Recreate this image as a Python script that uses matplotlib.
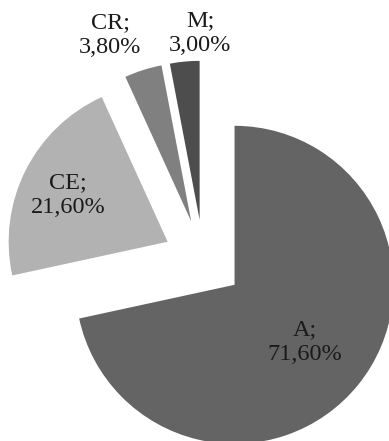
import matplotlib
matplotlib.use("Agg")
import matplotlib.pyplot as plt
import numpy as np

# dati
categorie = ["A", "CE", "CR", "M"]
percentuali = [71.6, 21.6, 3.8, 3.0]
etichette = ["A;\n71,60%", "CE;\n21,60%", "CR;\n3,80%", "M;\n3,00%"]

colori = ["#646464", "#b2b2b2", "#808080", "#4d4d4d"]
dist_etichette = [0.57, 0.70, 1.23, 1.18]
# piccolo spostamento (pixel) delle etichette esterne per non sovrapporle
shift_etichette = [(0, 0), (0, -3), (-22, 0), (18, 0)]

W, H = 389, 441
fig = plt.figure(figsize=(W / 100, H / 100), dpi=100)
ax = fig.add_axes([0, 0, 1, 1])

raggio = 159
centro = (203.4, H - 259.7)
# in matplotlib l'esplosione e' in unita' dati, non frazione del raggio
wedges, _ = ax.pie(
    percentuali,
    colors=colori,
    startangle=90,
    counterclock=False,
    explode=[40] * len(percentuali),
    radius=raggio,
    center=centro,
    wedgeprops=dict(linewidth=0),
)

# etichette posizionate lungo l'angolo medio di ogni fetta
for w, testo, d, (dx, dy) in zip(wedges, etichette, dist_etichette, shift_etichette):
    ang = np.deg2rad((w.theta1 + w.theta2) / 2)
    x = w.center[0] + d * w.r * np.cos(ang) + dx
    y = w.center[1] + d * w.r * np.sin(ang) + dy
    ax.text(x, y, testo, ha="center", va="center", fontsize=17.5,
            family="Liberation Serif", linespacing=1.25, color="#1a1a1a")

ax.set_xlim(0, W)
ax.set_ylim(0, H)
ax.set_aspect("equal")
ax.axis("off")
fig.savefig("out.png", dpi=100)
plt.close(fig)
